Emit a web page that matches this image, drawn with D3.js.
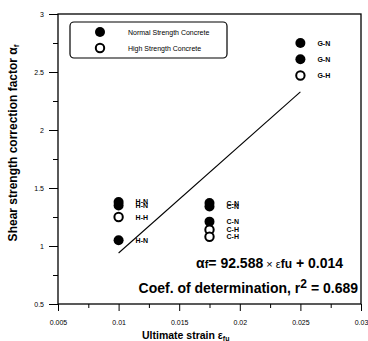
<!DOCTYPE html>
<html>
<head>
<meta charset="utf-8">
<script src="https://cdn.jsdelivr.net/npm/d3@7"></script>
<style>
  body { margin: 0; background: #fff; }
  svg { display: block; font-family: "Liberation Sans", Arial, sans-serif; }
</style>
</head>
<body>
<div id="chart"></div>
<script>
// ultimate strain of each specimen and its shear strength correction factor
const strain = [0.01, 0.01, 0.01, 0.01, 0.0175, 0.0175, 0.0175, 0.0175, 0.0175, 0.025, 0.025, 0.025];
const factor = [1.38, 1.35, 1.25, 1.05, 1.37, 1.34, 1.21, 1.14, 1.08, 2.75, 2.61, 2.47];
const specimen = ['H-N', 'H-N', 'H-H', 'H-N', 'C-N', 'C-N', 'C-N', 'C-H', 'C-H', 'G-N', 'G-N', 'G-H'];
const concrete = ['N', 'N', 'H', 'N', 'N', 'N', 'N', 'H', 'H', 'N', 'N', 'H'];

const legendLabels = ['Normal Strength Concrete', 'High Strength Concrete'];
const xTicks = [0.005, 0.01, 0.015, 0.02, 0.025, 0.03];
const yTicks = [0.5, 1, 1.5, 2, 2.5, 3];

// regression: af = 92.588 * efu + 0.014
const slope = 92.588;
const intercept = 0.014;
const fitRange = [0.01, 0.025];

const width = 368, height = 341;
const margin = { top: 14, right: 7, bottom: 37, left: 58 };

const svg = d3.select('#chart').append('svg')
  .attr('width', width)
  .attr('height', height);

const x = d3.scaleLinear().domain([0.005, 0.03]).range([margin.left, width - margin.right]);
const y = d3.scaleLinear().domain([0.5, 3]).range([height - margin.bottom, margin.top]);

// minor ticks first, major on top
svg.append('g')
  .attr('transform', `translate(0,${y(0.5)})`)
  .call(d3.axisBottom(x).tickValues(d3.range(0.0075, 0.03, 0.005)).tickSize(4).tickFormat(''))
  .call(g => g.select('.domain').remove());
svg.append('g')
  .attr('transform', `translate(${x(0.005)},0)`)
  .call(d3.axisLeft(y).tickValues(d3.range(0.75, 3, 0.5)).tickSize(5).tickFormat(''))
  .call(g => g.select('.domain').remove());

const xAxis = svg.append('g')
  .attr('transform', `translate(0,${y(0.5)})`)
  .call(d3.axisBottom(x).tickValues(xTicks).tickSize(7).tickPadding(9).tickFormat(d => d3.format('')(d)));
const yAxis = svg.append('g')
  .attr('transform', `translate(${x(0.005)},0)`)
  .call(d3.axisLeft(y).tickValues(yTicks).tickSize(9).tickPadding(5).tickFormat(d => d));

[xAxis, yAxis].forEach(a => {
  a.selectAll('text').attr('font-size', 7).attr('fill', '#000').attr('font-family', '"Liberation Sans", Arial, sans-serif');
  a.select('.domain').remove();
});

// frame
svg.append('rect')
  .attr('x', x(0.005)).attr('y', y(3))
  .attr('width', x(0.03) - x(0.005)).attr('height', y(0.5) - y(3))
  .attr('fill', 'none').attr('stroke', '#000').attr('stroke-width', 1.3);

// regression line
svg.append('line')
  .attr('x1', x(fitRange[0])).attr('y1', y(slope * fitRange[0] + intercept))
  .attr('x2', x(fitRange[1])).attr('y2', y(slope * fitRange[1] + intercept))
  .attr('stroke', '#000').attr('stroke-width', 1.1);

// points
const pts = svg.append('g');
strain.forEach((s, i) => {
  const open = concrete[i] === 'H';
  pts.append('circle')
    .attr('cx', x(s)).attr('cy', y(factor[i]))
    .attr('r', open ? 4.2 : 5)
    .attr('fill', open ? '#fff' : '#000')
    .attr('stroke', '#000').attr('stroke-width', open ? 2 : 0);
  pts.append('text')
    .attr('x', x(s) + 17).attr('y', y(factor[i]) + 2.5)
    .attr('font-size', 7).attr('font-weight', 'bold')
    .text(specimen[i]);
});

// legend
const lg = svg.append('g');
lg.append('rect')
  .attr('x', 70).attr('y', 22).attr('width', 157).attr('height', 36)
  .attr('rx', 4).attr('fill', 'none').attr('stroke', '#000').attr('stroke-width', 1.2);
legendLabels.forEach((t, i) => {
  const open = i === 1;
  lg.append('circle')
    .attr('cx', 100).attr('cy', 32 + i * 16)
    .attr('r', open ? 4.2 : 5)
    .attr('fill', open ? '#fff' : '#000')
    .attr('stroke', '#000').attr('stroke-width', open ? 2 : 0);
  lg.append('text')
    .attr('x', 128).attr('y', 34.5 + i * 16)
    .attr('font-size', 7)
    .text(t);
});

// equation
const eq = svg.append('text')
  .attr('x', 343).attr('y', 268)
  .attr('text-anchor', 'end')
  .attr('font-size', 14).attr('font-weight', 'bold');
eq.append('tspan').text('α');
eq.append('tspan').attr('font-size', 11).text('f');
eq.append('tspan').text('= 92.588');
eq.append('tspan').attr('font-weight', 'normal').attr('font-size', 11).text(' × ε');
eq.append('tspan').attr('font-size', 12).text('fu');
eq.append('tspan').text(' + 0.014');

const r2 = svg.append('text')
  .attr('x', 358).attr('y', 292.5)
  .attr('text-anchor', 'end')
  .attr('font-size', 14).attr('font-weight', 'bold');
r2.append('tspan').text('Coef. of determination, r');
r2.append('tspan').attr('dy', -5).attr('font-size', 12).text('2');
r2.append('tspan').attr('dy', 5).text(' = 0.689');

// axis titles
const xt = svg.append('text')
  .attr('x', 142).attr('y', 338.5)
  .attr('font-size', 10.5).attr('font-weight', 'bold');
xt.append('tspan').text('Ultimate strain  ε');
xt.append('tspan').attr('dy', 2).attr('font-size', 7).text('fu');

const yt = svg.append('text')
  .attr('transform', 'translate(17,143) rotate(-90)')
  .attr('text-anchor', 'middle')
  .attr('font-size', 12).attr('font-weight', 'bold');
yt.append('tspan').text('Shear strength correction factor α');
yt.append('tspan').attr('dy', 2).attr('font-size', 8).text('f');
</script>
</body>
</html>
